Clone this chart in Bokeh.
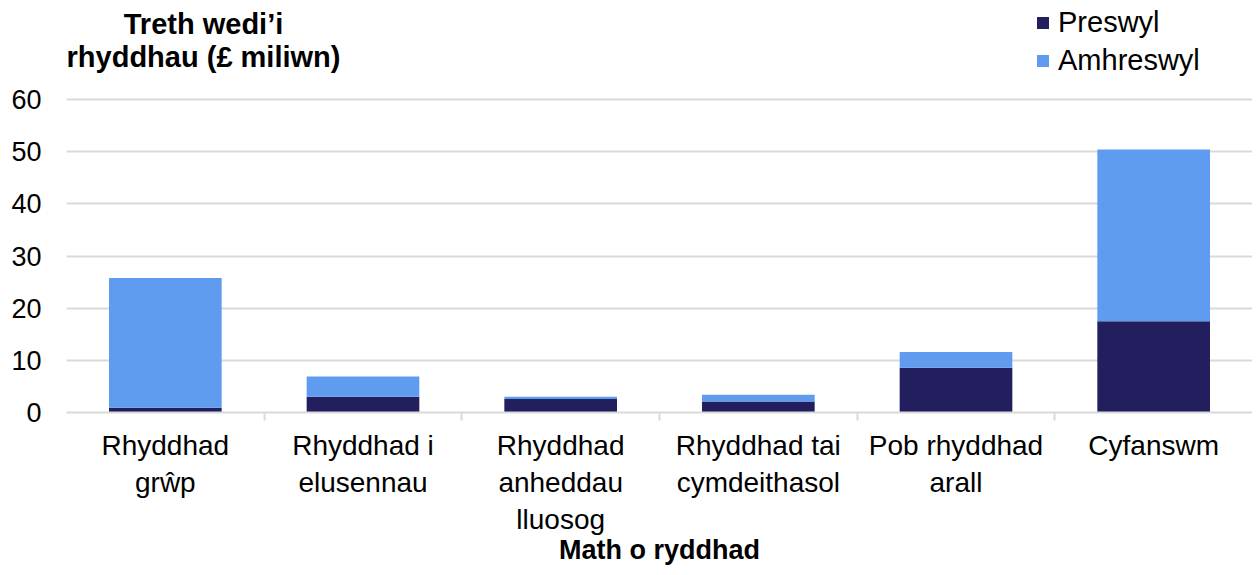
from bokeh.plotting import figure
from bokeh.models import (FactorRange, Range1d, CategoricalAxis, FixedTicker,
                          Legend, LegendItem, Label, ColumnDataSource)
from bokeh.embed import file_html
from bokeh.resources import INLINE

categories = ["Rhyddhad grŵp", "Rhyddhad i elusennau", "Rhyddhad anheddau lluosog",
              "Rhyddhad tai cymdeithasol", "Pob rhyddhad arall", "Cyfanswm"]
tick_labels = ["Rhyddhad\ngrŵp", "Rhyddhad i\nelusennau", "Rhyddhad\nanheddau\nlluosog",
               "Rhyddhad tai\ncymdeithasol", "Pob rhyddhad\narall", "Cyfanswm"]
preswyl = [0.9, 3.0, 2.6, 2.1, 8.6, 17.5]
amhreswyl = [24.9, 3.9, 0.4, 1.3, 3.0, 32.9]
series = ["Preswyl", "Amhreswyl"]
colors = ["#231F5F", "#5F9CEF"]
y_ticks = [0, 10, 20, 30, 40, 50, 60]
y_title = ["Treth wedi’i", "rhyddhau (£ miliwn)"]
x_title = "Math o ryddhad"

FONT = "Liberation Sans"
GRID = "#D9D9D9"

# factors are the wrapped category labels
source = ColumnDataSource(data=dict(cat=tick_labels, name=categories,
                                    Preswyl=preswyl, Amhreswyl=amhreswyl))

p = figure(width=1252, height=567,
           x_range=FactorRange(*tick_labels, range_padding=0),
           y_range=Range1d(0, 78.98),   # frame reaches up to the top of the page; 60 is the top tick
           output_backend="svg", toolbar_location=None,
           x_axis_location=None, y_axis_location="left",
           min_border_left=66, min_border_right=0, min_border_top=0, min_border_bottom=155,
           outline_line_color=None, background_fill_color="white", border_fill_color="white")

renderers = p.vbar_stack(series, x="cat", width=0.57, color=colors, line_color=None, source=source)

# y axis
p.yaxis.ticker = FixedTicker(ticks=y_ticks)
p.yaxis.axis_line_color = None
p.yaxis.major_tick_line_color = None
p.yaxis.minor_tick_line_color = None
p.yaxis.major_tick_out = 0
p.yaxis.major_tick_in = 0
p.yaxis.major_label_standoff = 25
p.yaxis.major_label_text_font = FONT
p.yaxis.major_label_text_font_size = "27px"
p.yaxis.major_label_text_color = "black"

p.ygrid.grid_line_color = GRID
p.ygrid.grid_line_width = 2
p.xgrid.grid_line_color = None

# category edge ticks: a factor range whose factor centres sit on the category boundaries
edges = [str(i) for i in range(len(categories) + 1)]
p.extra_x_ranges = {"edges": FactorRange(*edges, range_padding=-0.5, range_padding_units="absolute")}
edge_axis = CategoricalAxis(x_range_name="edges",
                            axis_line_color=GRID, axis_line_width=2,
                            major_tick_line_color=GRID, major_tick_line_width=2,
                            major_tick_out=8, major_tick_in=0,
                            minor_tick_line_color=None,
                            major_label_text_font_size="0px", major_label_standoff=0)
p.add_layout(edge_axis, "below")

cat_axis = CategoricalAxis(axis_line_color=None, major_tick_line_color=None,
                           minor_tick_line_color=None, major_tick_out=0, major_tick_in=0,
                           major_label_text_font=FONT, major_label_text_font_size="28px",
                           major_label_text_color="black", major_label_standoff=9,
                           axis_label=x_title, axis_label_text_font=FONT,
                           axis_label_text_font_size="27px", axis_label_text_font_style="bold",
                           axis_label_text_color="black", axis_label_standoff=-3)
p.add_layout(cat_axis, "below")

# legend
legend = Legend(items=[LegendItem(label=s, renderers=[r]) for s, r in zip(series, renderers)],
                location=(969, 335), orientation="vertical",
                glyph_width=15, glyph_height=15, label_standoff=8, spacing=5,
                label_text_font=FONT, label_text_font_size="29px", label_text_color="black",
                padding=0, margin=0, border_line_color=None, background_fill_alpha=0)
p.add_layout(legend)

# y-axis title (two lines, top-left)
for text, y in zip(y_title, [389, 356]):
    p.add_layout(Label(x=137, y=y, x_units="screen", y_units="screen", text=text,
                       text_align="center", text_baseline="alphabetic",
                       text_font=FONT, text_font_size="29px", text_font_style="bold",
                       text_color="black"))

open("out.html", "w").write(file_html(p, INLINE))
